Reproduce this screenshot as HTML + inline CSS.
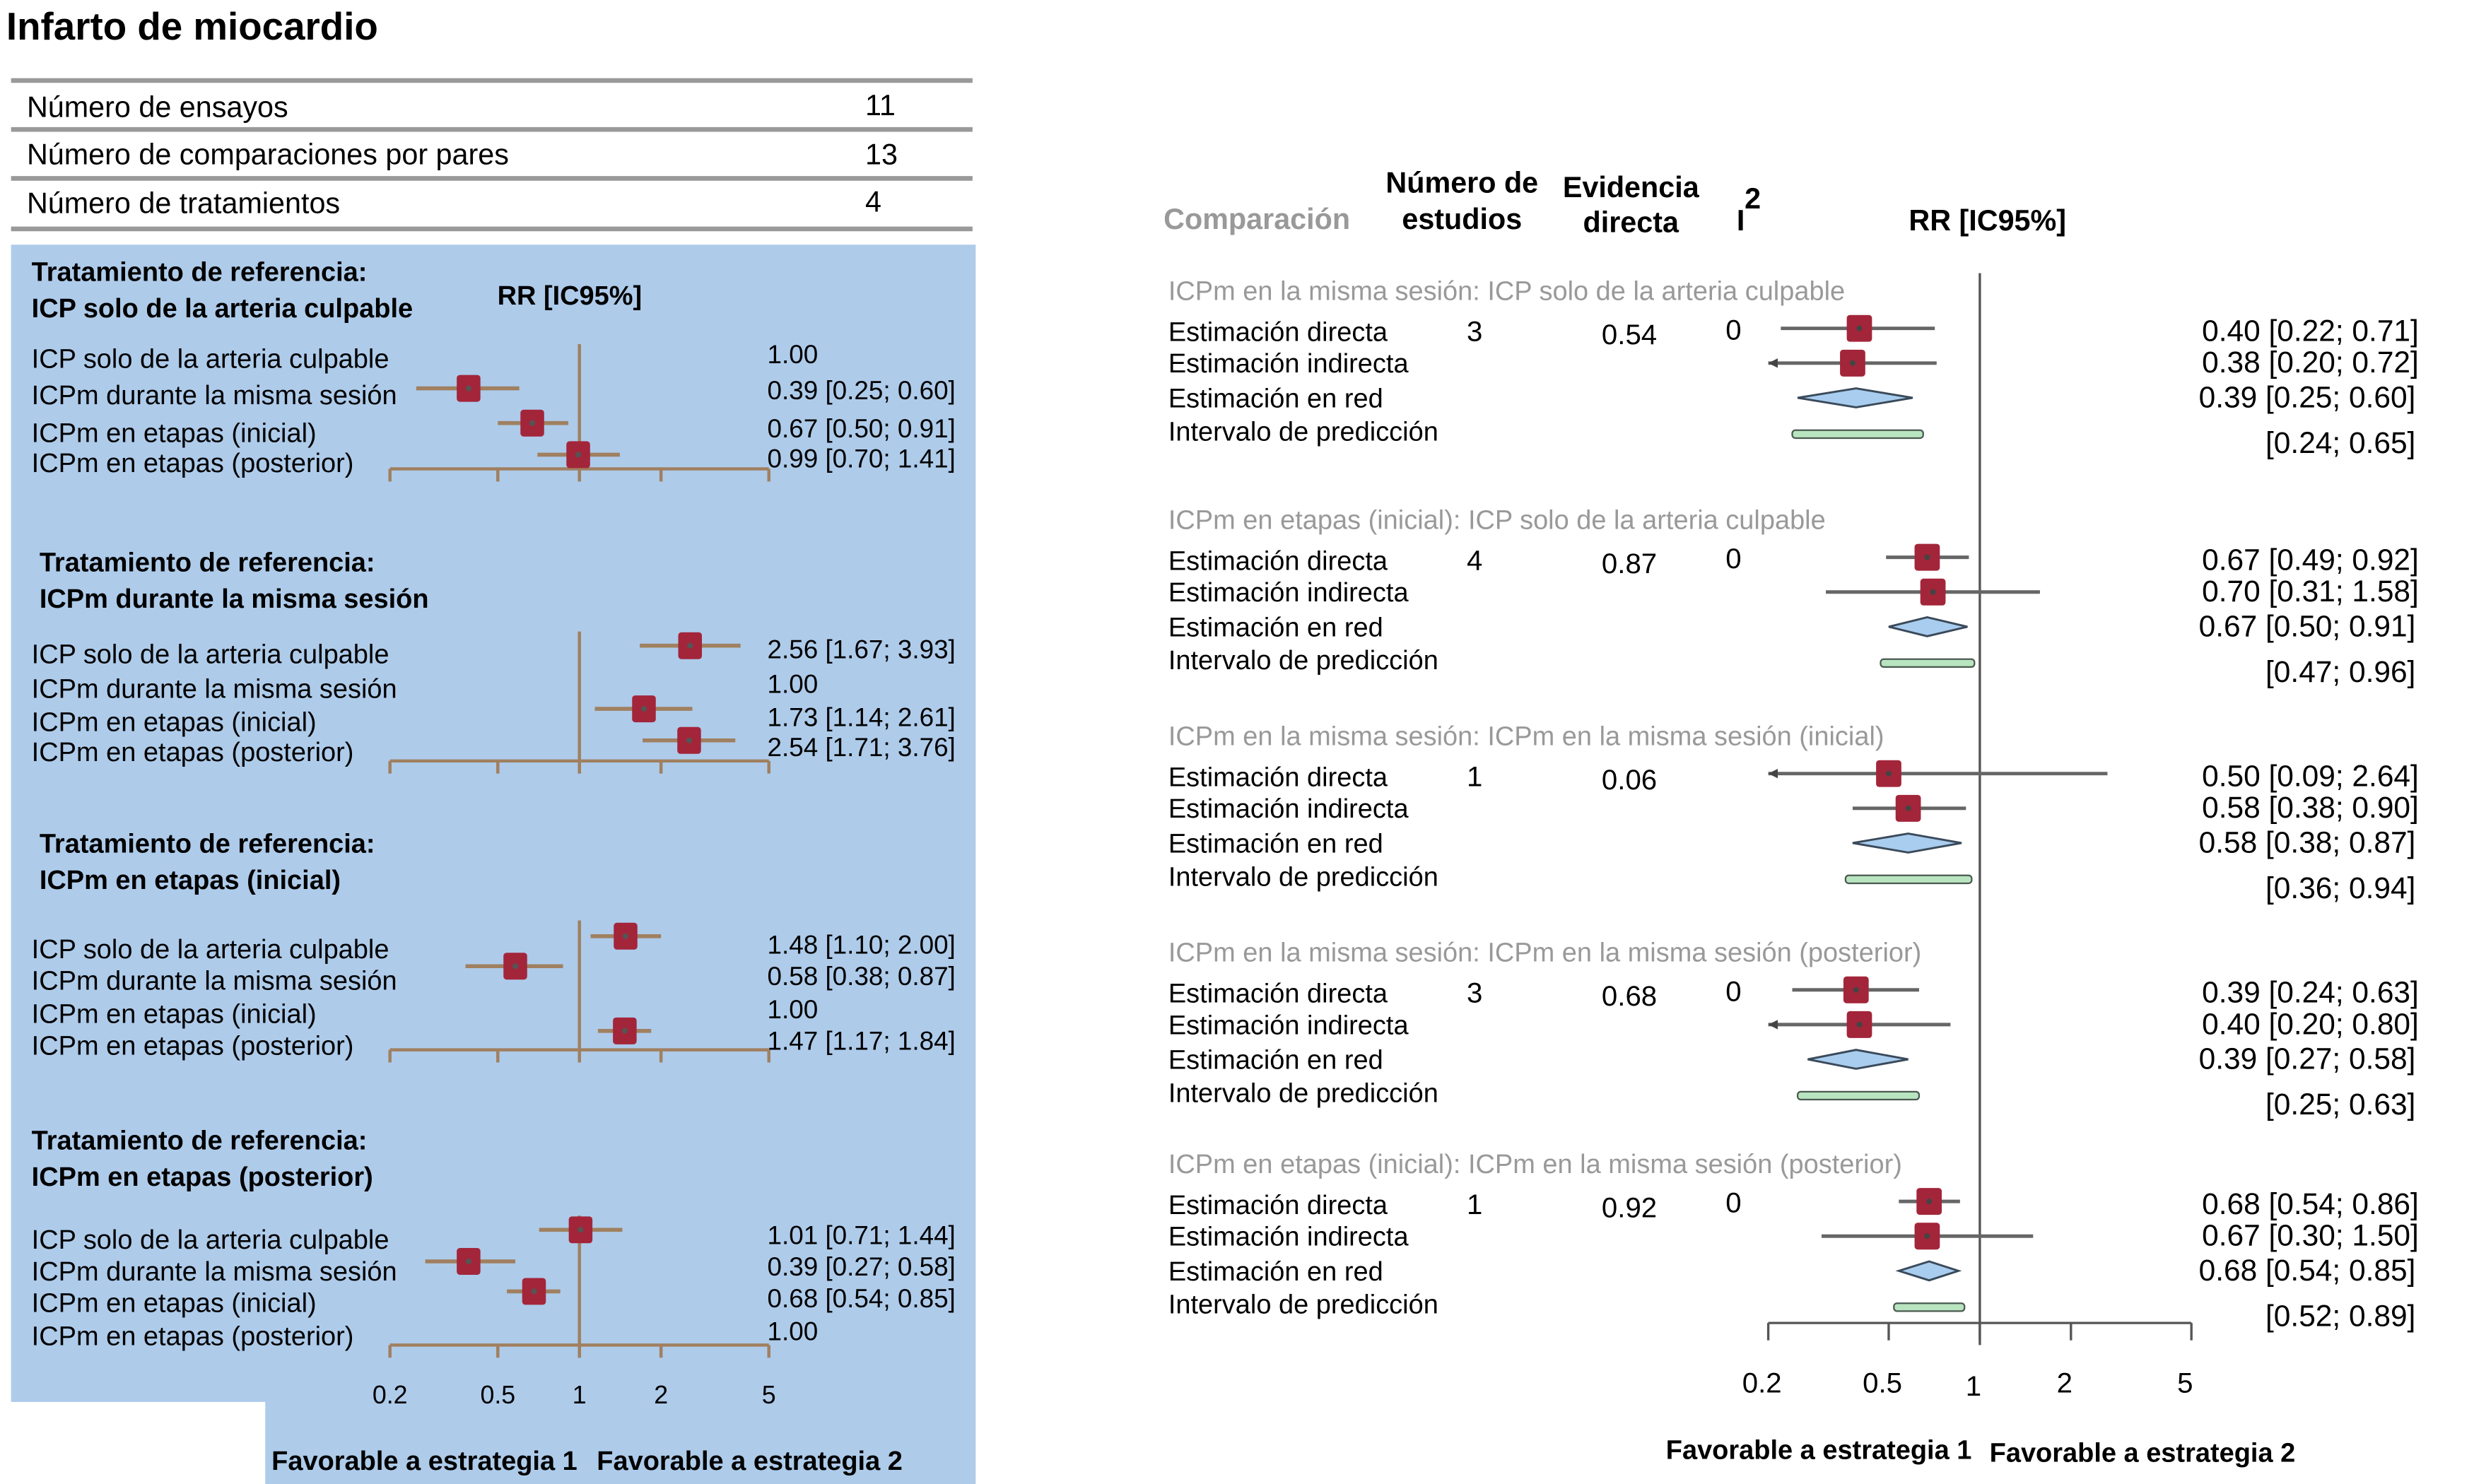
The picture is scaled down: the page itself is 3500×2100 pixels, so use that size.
<!DOCTYPE html>
<html><head><meta charset="utf-8"><style>
html,body{margin:0;padding:0;background:#fff}
svg{display:block}
text{font-family:"Liberation Sans",sans-serif}
</style></head><body>
<svg id="fig" width="3500" height="2100" viewBox="0 0 1567 940" preserveAspectRatio="none" xmlns="http://www.w3.org/2000/svg">
<rect x="0" y="0" width="1567" height="940" fill="#fff"/>
<text x="4" y="25" font-size="24.5" font-weight="bold">Infarto de miocardio</text>
<g font-size="18.5">
<line x1="7" y1="51" x2="616" y2="51" stroke="#999" stroke-width="3"/>
<line x1="7" y1="82" x2="616" y2="82" stroke="#999" stroke-width="3"/>
<line x1="7" y1="113" x2="616" y2="113" stroke="#999" stroke-width="3"/>
<line x1="7" y1="145" x2="616" y2="145" stroke="#999" stroke-width="3"/>
<text x="17" y="74">Número de ensayos</text><text x="548" y="73">11</text>
<text x="17" y="104">Número de comparaciones por pares</text><text x="548" y="104">13</text>
<text x="17" y="135">Número de tratamientos</text><text x="548" y="134">4</text>
</g>
<path d="M7 155 H618 V940 H168 V888 H7 Z" fill="#aecbea"/>
<g id="left"></g>
<g id="right"></g>
</svg>
<script>
const NS="http://www.w3.org/2000/svg";
function mk(p,tag,a,txt){const e=document.createElementNS(NS,tag);for(const k in a)e.setAttribute(k,a[k]);if(txt!==undefined)e.textContent=txt;p.appendChild(e);return e;}

// LEFT PANEL DATA
const leftRowLabels=["ICP solo de la arteria culpable","ICPm durante la misma sesión","ICPm en etapas (inicial)","ICPm en etapas (posterior)"];
const leftRefTitles=["ICP solo de la arteria culpable","ICPm durante la misma sesión","ICPm en etapas (inicial)","ICPm en etapas (posterior)"];
const leftEst1=[1.00,0.39,0.67,0.99], leftLo1=[null,0.25,0.50,0.70], leftHi1=[null,0.60,0.91,1.41];
const leftEst2=[2.56,1.00,1.73,2.54], leftLo2=[1.67,null,1.14,1.71], leftHi2=[3.93,null,2.61,3.76];
const leftEst3=[1.48,0.58,1.00,1.47], leftLo3=[1.10,0.38,null,1.17], leftHi3=[2.00,0.87,null,1.84];
const leftEst4=[1.01,0.39,0.68,1.00], leftLo4=[0.71,0.27,0.54,null], leftHi4=[1.44,0.58,0.85,null];
const tickValues=[0.2,0.5,1,2,5];
const tickLabels=["0.2","0.5","1","2","5"];

// RIGHT PANEL DATA
const rightComparisons=["ICPm en la misma sesión: ICP solo de la arteria culpable","ICPm en etapas (inicial): ICP solo de la arteria culpable","ICPm en la misma sesión: ICPm en la misma sesión (inicial)","ICPm en la misma sesión: ICPm en la misma sesión (posterior)","ICPm en etapas (inicial): ICPm en la misma sesión (posterior)"];
const rightNStudies=["3","4","1","3","1"];
const rightDirectEv=["0.54","0.87","0.06","0.68","0.92"];
const rightI2=["0","0","","0","0"];
const directEst=[0.40,0.67,0.50,0.39,0.68], directLo=[0.22,0.49,0.09,0.24,0.54], directHi=[0.71,0.92,2.64,0.63,0.86];
const indirEst=[0.38,0.70,0.58,0.40,0.67], indirLo=[0.20,0.31,0.38,0.20,0.30], indirHi=[0.72,1.58,0.90,0.80,1.50];
const netEst=[0.39,0.67,0.58,0.39,0.68], netLo=[0.25,0.50,0.38,0.27,0.54], netHi=[0.60,0.91,0.87,0.58,0.85];
const predLo=[0.24,0.47,0.36,0.25,0.52], predHi=[0.65,0.96,0.94,0.63,0.89];

function f2(v){return v.toFixed(2);}
function logx(c,half){return v=>c+half*Math.log10(v)/Math.log10(5);}

// ----- left
const L=document.getElementById('left');
const lx=logx(367,120);
const ests=[leftEst1,leftEst2,leftEst3,leftEst4],los=[leftLo1,leftLo2,leftLo3,leftLo4],his=[leftHi1,leftHi2,leftHi3,leftHi4];
const blockTop=[178,362,540,728];
const blockTextY=[[233,256,280,299],[420,442,463,482],[607,627,648,668],[791,811,831,852]];
const blockMarkY=[[226,246,268,288],[409,429,449,469],[593,612,632,653],[779,799,818,838]];
const blockAxisY=[297,482,665,852];
const blockVTop=[218,400,583,770];
const leftHeadX=[20,25,25,20];
for(let b=0;b<4;b++){
  const g=mk(L,'g',{});
  
  
  const t1=mk(g,'text',{x:leftHeadX[b],y:blockTop[b],'font-size':17,'font-weight':'bold'},'Tratamiento de referencia:');
  
  
  const t2=mk(g,'text',{x:leftHeadX[b],y:blockTop[b]+23,'font-size':17,'font-weight':'bold'},leftRefTitles[b]);
  
  
  const ay=blockAxisY[b];
  const ax=mk(g,'g',{stroke:'#a08060','stroke-width':2,fill:'none'});
  
  
  mk(ax,'line',{x1:lx(0.2),y1:ay,x2:lx(5),y2:ay});
  tickValues.forEach(v=>mk(ax,'line',{x1:lx(v),y1:ay,x2:lx(v),y2:ay+8}));
  const vl=mk(g,'line',{x1:lx(1),y1:blockVTop[b],x2:lx(1),y2:ay+8,stroke:'#a08060','stroke-width':2});
  
  
  for(let r=0;r<4;r++){
    const lab=mk(g,'text',{x:20,y:blockTextY[b][r],'font-size':17},leftRowLabels[r]);
    
    
    const e=ests[b][r],lo=los[b][r],hi=his[b][r];
    const vt=mk(g,'text',{x:486,y:blockTextY[b][r]-3,'font-size':16.5},lo===null?f2(e):f2(e)+' ['+f2(lo)+'; '+f2(hi)+']');
    
    
    if(lo===null) continue;
    const y=blockMarkY[b][r];
    const ci=mk(g,'line',{x1:lx(lo),y1:y,x2:lx(hi),y2:y,stroke:'#a08060','stroke-width':2.5});
    
    
    const sq=mk(g,'rect',{x:lx(e)-7.5,y:y-8.5,width:15,height:17,rx:2,fill:'#a3253a'});
    
    
    mk(g,'circle',{cx:lx(e),cy:y,r:1.8,fill:'#555'});
  }
}
const rrh=mk(L,'text',{x:315,y:193,'font-size':17,'font-weight':'bold'},'RR  [IC95%]');


tickValues.forEach((v,i)=>{
  const t=mk(L,'text',{x:lx(v),y:889,'font-size':16,'text-anchor':'middle'},tickLabels[i]);
  
  
});
const lf1=mk(L,'text',{x:172,y:931,'font-size':17,'font-weight':'bold'},'Favorable a estrategia 1');


const lf2=mk(L,'text',{x:378,y:931,'font-size':17,'font-weight':'bold'},'Favorable a estrategia 2');



// ----- right
const R=document.getElementById('right');
const rx=logx(1254,134);
const hdr=[['Comparación',737,145,'#999','start'],['Número de',926,122,'#000','middle'],['estudios',926,145,'#000','middle'],['Evidencia',1033,125,'#000','middle'],['directa',1033,147,'#000','middle'],['I',1100,146,'#000','start'],['2',1105,132,'#000','start'],['RR [IC95%]',1209,146,'#000','start']];
hdr.forEach(h=>{
  const t=mk(R,'text',{x:h[1],y:h[2],'font-size':18.5,'font-weight':'bold',fill:h[3],'text-anchor':h[4]},h[0]);
  
  
});
const vline=mk(R,'line',{x1:rx(1),y1:173,x2:rx(1),y2:852,stroke:'#555','stroke-width':1.5});


const rax=mk(R,'g',{stroke:'#555','stroke-width':1.5});


mk(rax,'line',{x1:rx(0.2),y1:838,x2:rx(5),y2:838});
tickValues.forEach(v=>mk(rax,'line',{x1:rx(v),y1:838,x2:rx(v),y2:849}));
const rtickY=[882,882,884,882,882];
tickValues.forEach((v,i)=>{
  const t=mk(R,'text',{x:rx(v)-4,y:rtickY[i],'font-size':18,'text-anchor':'middle'},tickLabels[i]);
  
  
});
const rf1=mk(R,'text',{x:1152,y:924,'font-size':17,'font-weight':'bold','text-anchor':'middle'},'Favorable a estrategia 1');


const rf2=mk(R,'text',{x:1357,y:926,'font-size':17,'font-weight':'bold','text-anchor':'middle'},'Favorable a estrategia 2');



const rBlockY=[184,329,466,603,737];
const rowNames=["Estimación directa","Estimación indirecta","Estimación en red","Intervalo de predicción"];
const clip=v=>Math.min(5,Math.max(0.2,v));
for(let b=0;b<5;b++){
  const g=mk(R,'g',{});
  
  
  const y0=rBlockY[b];
  const ct=mk(g,'text',{x:740,y:y0+6,'font-size':17,fill:'#999'},rightComparisons[b]);
  
  
  const rowY=[y0+26,y0+46,y0+68,y0+89];
  rowNames.forEach((n,i)=>{
    const t=mk(g,'text',{x:740,y:rowY[i]+6,'font-size':17},n);
    
    
  });
  const ns=mk(g,'text',{x:934,y:rowY[0]+6,'font-size':18,'text-anchor':'middle'},rightNStudies[b]);
  
  
  const de=mk(g,'text',{x:1032,y:rowY[0]+8,'font-size':18,'text-anchor':'middle'},rightDirectEv[b]);
  
  
  const i2=mk(g,'text',{x:1098,y:rowY[0]+5,'font-size':18,'text-anchor':'middle'},rightI2[b]);
  
  
  const my=[rowY[0]-2,rowY[1],rowY[2],rowY[3]+2];
  [[directEst,directLo,directHi],[indirEst,indirLo,indirHi]].forEach((s,k)=>{
    const e=s[0][b],lo=s[1][b],hi=s[2][b],y=my[k];
    const ci=mk(g,'line',{x1:rx(clip(lo)),y1:y,x2:rx(clip(hi)),y2:y,stroke:'#666','stroke-width':2.2});
    
    
    if(lo<=0.2){mk(g,'path',{d:`M${rx(0.2)} ${y} l6 -3 l0 6 z`,fill:'#444'});}
    const sq=mk(g,'rect',{x:rx(e)-8,y:y-8.5,width:16,height:17,rx:2,fill:'#a3253a'});
    
    
    mk(g,'circle',{cx:rx(e),cy:y,r:1.8,fill:'#444'});
    const vt=mk(g,'text',{x:1532,y:y+(k===0?8:6),'font-size':19,'text-anchor':'end'},f2(e)+' ['+f2(lo)+'; '+f2(hi)+']');
    
    
  });
  {
    const e=netEst[b],lo=netLo[b],hi=netHi[b],y=my[2];
    const d=mk(g,'path',{d:`M${rx(lo)} ${y} L${rx(e)} ${y-6} L${rx(hi)} ${y} L${rx(e)} ${y+6} Z`,fill:'#a9cdee',stroke:'#3a4a5a','stroke-width':1.3});
    
    
    const vt=mk(g,'text',{x:1530,y:y+6,'font-size':19,'text-anchor':'end'},f2(e)+' ['+f2(lo)+'; '+f2(hi)+']');
    
    
  }
  {
    const lo=predLo[b],hi=predHi[b],y=my[3];
    const p=mk(g,'rect',{x:rx(lo),y:y-2.5,width:rx(hi)-rx(lo),height:5,rx:2,fill:'#b9e4c0',stroke:'#4a5a50','stroke-width':1});
    
    
    const vt=mk(g,'text',{x:1530,y:y+12,'font-size':19,'text-anchor':'end'},'['+f2(lo)+'; '+f2(hi)+']');
    
    
  }
}
</script>
</body></html>
